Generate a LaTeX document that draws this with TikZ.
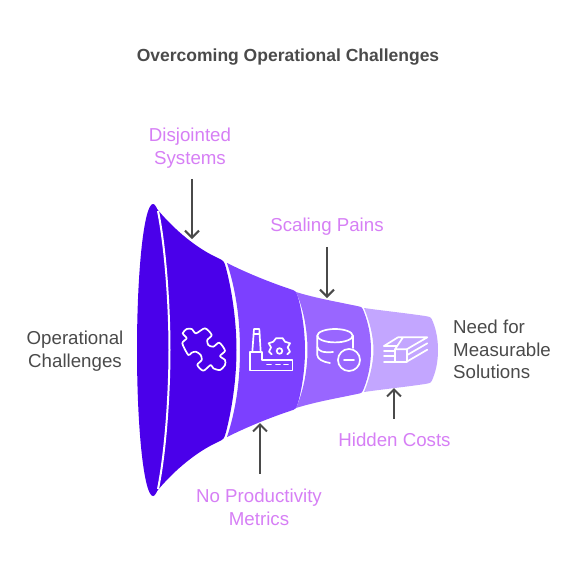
\documentclass[tikz,border=0pt]{standalone}
\usepackage{fontspec}
\setmainfont{Liberation Sans}
\usepackage{tikz}
\usetikzlibrary{positioning,arrows.meta,calc}
\definecolor{deepviolet}{HTML}{4A00EA}
\definecolor{midviolet}{HTML}{7C40FF}
\definecolor{softviolet}{HTML}{9966FF}
\definecolor{paleviolet}{HTML}{C3A6FF}
\definecolor{labelpink}{HTML}{D67FF5}
\definecolor{inkgray}{HTML}{4A4A4A}
\tikzset{
  pinklabel/.style={font=\fontsize{18.7}{23}\selectfont,text=labelpink,align=center,inner sep=0pt},
  graylabel/.style={font=\fontsize{18.7}{22.5}\selectfont,text=inkgray,inner sep=0pt},
  pointer/.style={draw=inkgray,line width=2pt,-{Straight Barb[length=7pt,width=14pt]}},
  iconline/.style={draw=white,line width=1.7pt,line join=round,line cap=round}
}
\begin{document}
\begin{tikzpicture}[x=1pt,y=-1pt]
        \useasboundingbox (0,0) rectangle (587,576);
        % funnel, largest part first
        \fill[deepviolet] (153,204) .. controls (175,232) and (200,250) .. (218,258) .. controls (224,261) .. (226,268) .. controls (233,295) and (236.5,325) .. (236.5,350) .. controls (236.5,375) and (233,405) .. (226,432) .. controls (224,439) .. (218,442) .. controls (200,450) and (175,468) .. (153,496) -- cycle;
        \fill[deepviolet] (153,350) ellipse [x radius=16,y radius=146];
        \draw[white,line width=2pt] (158,211) .. controls (166,250) and (169.5,310) .. (169.5,350) .. controls (169.5,390) and (166,450) .. (158,489);
        \fill[midviolet] (227,263) .. controls (249,274) and (272,283) .. (290,289) .. controls (296,291) .. (298,297) .. controls (303,315) and (305,335) .. (305,350) .. controls (305,365) and (303,385) .. (298,403) .. controls (296,409) .. (290,411) .. controls (272,417) and (249,426) .. (227,437) .. controls (236,410) and (240,380) .. (240,350) .. controls (240,320) and (236,290) .. (227,263) -- cycle;
        \fill[softviolet] (296,292) .. controls (315,298) and (338,302) .. (357,306) .. controls (362,307) .. (364,312) .. controls (369,325) and (371,338) .. (371,350) .. controls (371,362) and (369,375) .. (364,388) .. controls (362,393) .. (357,394) .. controls (338,398) and (315,402) .. (296,408) .. controls (304,390) and (307.5,368) .. (307.5,350) .. controls (307.5,332) and (304,310) .. (296,292) -- cycle;
        \fill[paleviolet] (364,308) .. controls (385,311) and (405,313) .. (425,316) .. controls (431,317) .. (433,322) .. controls (437,332) and (438,342) .. (438,350) .. controls (438,358) and (437,368) .. (433,378) .. controls (431,383) .. (425,384) .. controls (405,387) and (385,389) .. (364,392) .. controls (370,378) and (373.5,362) .. (373.5,350) .. controls (373.5,338) and (370,322) .. (364,308) -- cycle;
        % puzzle
        \draw[iconline] plot[smooth cycle,tension=0.45] coordinates {(182.7,333.3) (186.7,329) (191.7,329) (196,333.3) (205,328.3) (211.7,335) (207.3,340) (208.3,345) (213.3,346.7) (219.3,342.7) (225,350.7) (220,356) (225,360) (225,365) (220,370) (213.3,368.3) (210.7,365) (203.3,370.7) (197.3,365) (201.7,360) (200.7,355) (196,351.7) (191.7,352.7) (188.3,355) (182.3,343.3) (186.7,338.3)};
        % factory
        \draw[iconline] (250,370.5) -- (250,352) -- (262,352) -- (262,360) -- (292.5,360) -- (292.5,370.5) -- cycle;
        \draw[iconline] (252.3,352) -- (254,329) -- (259.3,329) -- (260.7,352) (253.5,334) -- (259.8,334);
        \draw[iconline] (267,364.5) -- (271,364.5) (276,364.5) -- (280,364.5) (284,364.5) -- (288,364.5);
        \draw[iconline] (279.5,351) circle (2.8);
        \draw[iconline] (271.7,354.3) -- (269,351.7) -- (271,347.3) -- (268.7,343.3) -- (273.3,341.7) -- (276,338.3) -- (282.7,338.3) -- (285,341.7) -- (290,343.3) -- (287.7,347.3) -- (290,351.7) -- (287.3,354.3);
        % database with minus
        \draw[iconline] (335,335.7) ellipse [x radius=17.7,y radius=6.7];
        \draw[iconline] (317.3,335.7) -- (317.3,355) .. controls (317.3,359) and (323,362) .. (330,363);
        \draw[iconline] (317.3,347) .. controls (318,351) and (323,353) .. (333,352);
        \draw[iconline] (352.7,335.7) -- (352.7,348);
        \draw[iconline] (349,360) circle (11);
        \draw[iconline] (344,360) -- (354,360);
        % stack of notes
        \draw[iconline] (384,346) -- (398,337.3) -- (427.3,337.3) -- (406.7,349.3) -- (395,349.3) -- (403,337.3);
        \draw[iconline] (395,349.3) -- (395,361.7) (406.7,349.3) -- (406.7,361.7);
        \draw[iconline] (384,346) -- (397,346) (384,351) -- (395,351) (384,356) -- (395,356) (384,361.7) -- (406.7,361.7);
        \draw[iconline] (406.7,355.3) -- (427.3,343.3) (406.7,361.7) -- (427.3,349.7);
        % texts
        \node[font=\bfseries\fontsize{17.5}{20}\selectfont,text=inkgray,inner sep=0pt] (title) at (288,57.5) {Overcoming Operational Challenges};
        \node[graylabel,align=center] (start) at (75,351) {Operational\\Challenges};
        \node[graylabel,align=left,anchor=west] (finish) at (453,349.5) {Need for\\Measurable\\Solutions};
        \node[pinklabel] (disjoint) at (190,148.5) {Disjointed\\Systems};
        \node[pinklabel] (scaling) at (327,227) {Scaling Pains};
        \node[pinklabel] (metrics) at (259,507.5) {No Productivity\\Metrics};
        \node[pinklabel] (hidden) at (394.5,440) {Hidden Costs};
        % pointers
        \coordinate (disjointtip) at (192,239);
        \coordinate (scalingtip) at (327,298);
        \coordinate (metricstip) at (260,423);
        \coordinate (hiddentip) at (394,388);
        \draw[pointer,shorten <=10pt] (disjoint.south -| disjointtip) -- (disjointtip);
        \draw[pointer,shorten <=11pt] (scaling.south -| scalingtip) -- (scalingtip);
        \draw[pointer,shorten <=15pt] (metrics.north -| metricstip) -- (metricstip);
        \draw[pointer,shorten <=14pt] (hidden.north -| hiddentip) -- (hiddentip);
      \end{tikzpicture}
\end{document}
